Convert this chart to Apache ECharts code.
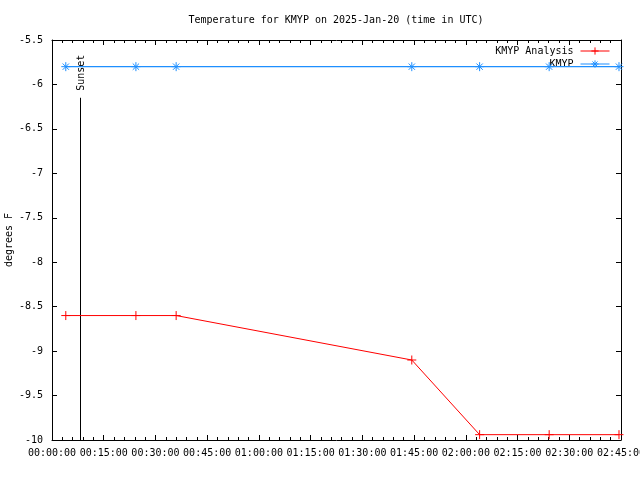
<!DOCTYPE html>
<html>
<head>
<meta charset="utf-8">
<script src="https://cdn.jsdelivr.net/npm/echarts@6/dist/echarts.min.js"></script>
<style>html,body{margin:0;padding:0;background:#fff}#c{width:640px;height:480px}</style>
</head>
<body>
<div id="c"></div>
<script>
// ---- data ----
const titleText = 'Temperature for KMYP on 2025-Jan-20 (time in UTC)';
const obsTimes = ['00:04:00', '00:24:20', '00:36:00', '01:44:20', '02:04:00', '02:24:10', '02:44:25'];
const analysisValues = [-8.6, -8.6, -8.6, -9.1, -9.94, -9.94, -9.94];
const observedValues = [-5.8, -5.8, -5.8, -5.8, -5.8, -5.8, -5.8];
const sunsetTime = '00:08:16';
const sunsetTop = -6.15;
const xMinMinutes = 0, xMaxMinutes = 165, xStep = 15;
const yMin = -10, yMax = -5.5, yStep = 0.5;

function toMin(s) { const p = s.split(':').map(Number); return p[0] * 60 + p[1] + (p[2] || 0) / 60; }
function fmt(m) {
  const tot = Math.round(m * 60);
  const h = Math.floor(tot / 3600), mi = Math.floor((tot % 3600) / 60), se = tot % 60;
  const z = n => String(n).padStart(2, '0');
  return z(h) + ':' + z(mi) + ':' + z(se);
}
const FONT = 'DejaVu Sans Mono';
const plusPath = 'path://M0,5L10,5M5,0L5,10';
const starPath = 'path://M0,5L10,5M5,0L5,10M1.5,1.5L8.5,8.5M8.5,1.5L1.5,8.5';

const chart = echarts.init(document.getElementById('c'), null, { renderer: 'canvas' });
const baseX = {
  type: 'value', min: xMinMinutes, max: xMaxMinutes, interval: xStep,
  axisLine: { show: true, onZero: false, lineStyle: { color: '#000', width: 1 } },
  axisTick: { show: true, inside: true, length: 5, lineStyle: { color: '#000' } },
  minorTick: { show: true, splitNumber: 5, length: 3, lineStyle: { color: '#000' } },
  splitLine: { show: false }, minorSplitLine: { show: false }
};
const baseY = {
  type: 'value', min: yMin, max: yMax, interval: yStep,
  axisLine: { show: true, onZero: false, lineStyle: { color: '#000', width: 1 } },
  axisTick: { show: true, inside: true, length: 5, lineStyle: { color: '#000' } },
  splitLine: { show: false }
};
const legendBase = {
  right: 30, align: 'right', orient: 'vertical', padding: 0, itemGap: 0,
  itemWidth: 29, itemHeight: 9,
  itemStyle: { borderWidth: 1 }, lineStyle: { width: 1 },
  textStyle: { fontFamily: FONT, fontSize: 10, color: '#000', padding: [0, 2, 0, 0] }
};
chart.setOption({
  animation: false,
  backgroundColor: '#fff',
  title: {
    text: titleText, left: 336, top: 15, padding: 0, textAlign: 'center',
    textStyle: { fontFamily: FONT, fontSize: 10, fontWeight: 'normal', color: '#000' }
  },
  grid: { left: 52, right: 19, top: 40, bottom: 40, containLabel: false, outerBoundsMode: 'none' },
  legend: [
    Object.assign({}, legendBase, { data: ['KMYP Analysis'], top: 46 }),
    Object.assign({}, legendBase, { data: ['KMYP'], top: 59 })
  ],
  xAxis: [
    Object.assign({}, baseX, { position: 'bottom',
      axisLabel: { show: true, margin: 8, fontFamily: FONT, fontSize: 10, color: '#000', formatter: v => fmt(v) } }),
    Object.assign({}, baseX, { position: 'top', axisLabel: { show: false } })
  ],
  yAxis: [
    Object.assign({}, baseY, { position: 'left',
      name: 'degrees F', nameLocation: 'middle', nameRotate: 90, nameGap: 38, nameMoveOverlap: false,
      nameTextStyle: { fontFamily: FONT, fontSize: 10, color: '#000' },
      axisLabel: { show: true, margin: 9, fontFamily: FONT, fontSize: 10, color: '#000' } }),
    Object.assign({}, baseY, { position: 'right', axisLabel: { show: false } })
  ],
  series: [
    {
      name: 'KMYP Analysis', type: 'line',
      data: obsTimes.map((t, i) => [toMin(t), analysisValues[i]]),
      symbol: plusPath, symbolSize: 9, showAllSymbol: true,
      itemStyle: { color: '#ff0000', borderColor: '#ff0000', borderWidth: 1 },
      lineStyle: { color: '#ff0000', width: 1 }, z: 3
    },
    {
      name: 'KMYP', type: 'line',
      data: obsTimes.map((t, i) => [toMin(t), observedValues[i]]),
      symbol: starPath, symbolSize: 9, showAllSymbol: true,
      itemStyle: { color: '#1e8fff', borderColor: '#1e8fff', borderWidth: 1 },
      lineStyle: { color: '#1e8fff', width: 1.3 }, z: 4
    },
    {
      name: 'sunset', type: 'line',
      data: [[toMin(sunsetTime), yMin], [toMin(sunsetTime), sunsetTop]],
      symbol: 'none', lineStyle: { color: '#000', width: 1 }, z: 2, silent: true
    }
  ]
});
const p = chart.convertToPixel({ xAxisIndex: 0, yAxisIndex: 0 }, [toMin(sunsetTime), sunsetTop]);
chart.setOption({
  graphic: [{
    type: 'text', x: p[0] + 1, y: p[1] - 7, rotation: Math.PI / 2,
    style: { text: 'Sunset', align: 'left', verticalAlign: 'middle', font: '10px "' + FONT + '"', fill: '#000' }
  }]
});
</script>
</body>
</html>
